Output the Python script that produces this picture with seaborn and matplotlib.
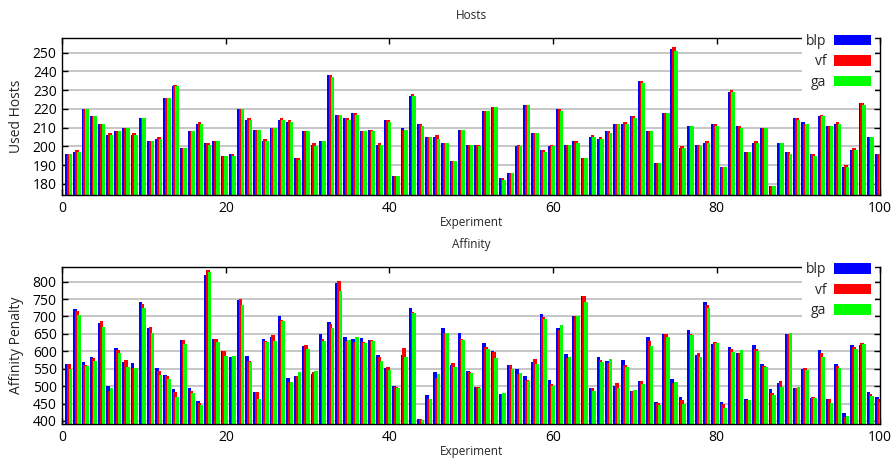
import numpy as np
import pandas as pd
import matplotlib
matplotlib.use("Agg")
import matplotlib.pyplot as plt
import seaborn as sns
from matplotlib.patches import Patch

experiments = list(range(1, 101))
series_names = ["blp", "vf", "ga"]
series_colors = ["#0000ff", "#ff0000", "#00ff00"]

hosts_blp = [196, 197, 220, 216, 212, 206, 208, 210, 206, 215, 203, 204, 226, 232, 199, 208, 212, 202, 203, 195,
             196, 220, 214, 209, 203, 210, 214, 213, 194, 208, 201, 203, 238, 217, 215, 218, 208, 209, 201, 214,
             184, 210, 227, 212, 205, 205, 202, 192, 209, 201, 201, 219, 221, 183, 186, 200, 222, 207, 198, 200,
             220, 201, 203, 194, 205, 204, 208, 212, 212, 216, 235, 208, 191, 218, 252, 199, 211, 201, 202, 212,
             189, 229, 211, 197, 202, 210, 179, 202, 197, 215, 213, 196, 216, 211, 212, 189, 198, 223, 205, 196]
hosts_vf = [196, 198, 220, 216, 212, 207, 208, 210, 207, 215, 203, 205, 226, 233, 199, 208, 213, 202, 203, 195,
            196, 220, 215, 209, 204, 210, 215, 214, 194, 208, 202, 203, 238, 217, 215, 218, 208, 209, 202, 214,
            184, 209, 228, 212, 205, 206, 202, 192, 209, 201, 201, 219, 221, 183, 186, 201, 222, 207, 198, 201,
            220, 201, 203, 194, 206, 205, 208, 212, 213, 216, 235, 208, 191, 218, 253, 200, 211, 201, 203, 212,
            189, 230, 211, 197, 203, 210, 179, 202, 197, 215, 212, 196, 217, 211, 213, 190, 199, 223, 205, 196]
hosts_ga = [196, 197, 220, 216, 212, 206, 208, 210, 206, 215, 203, 204, 226, 232, 199, 208, 212, 201, 203, 195,
            195, 220, 214, 209, 203, 210, 214, 213, 193, 208, 200, 203, 237, 217, 214, 217, 208, 208, 201, 213,
            184, 209, 227, 211, 205, 204, 202, 192, 209, 201, 200, 219, 221, 182, 186, 200, 222, 207, 197, 200,
            219, 201, 202, 194, 205, 204, 207, 212, 212, 215, 234, 208, 191, 218, 251, 199, 211, 200, 202, 211,
            189, 229, 210, 197, 202, 210, 179, 202, 196, 214, 212, 195, 216, 211, 212, 189, 198, 222, 205, 196]

aff_blp = [565, 722, 568, 585, 680, 499, 609, 568, 566, 741, 668, 552, 533, 492, 632, 496, 458, 820, 635, 602,
           583, 748, 586, 483, 636, 642, 702, 523, 528, 616, 536, 650, 683, 797, 640, 634, 638, 632, 590, 552,
           500, 590, 725, 405, 474, 541, 667, 560, 653, 543, 497, 625, 600, 478, 562, 549, 528, 569, 707, 517,
           666, 592, 701, 760, 494, 585, 572, 501, 574, 485, 514, 640, 455, 650, 520, 469, 660, 589, 741, 620,
           454, 613, 594, 462, 617, 563, 491, 509, 650, 494, 549, 465, 603, 463, 563, 424, 617, 618, 483, 470]
aff_vf = [565, 716, 562, 580, 687, 487, 605, 575, 551, 735, 671, 544, 529, 484, 632, 487, 452, 833, 635, 602,
          583, 751, 572, 482, 630, 648, 690, 513, 528, 618, 540, 635, 678, 803, 631, 628, 627, 632, 583, 556,
          497, 609, 713, 405, 463, 523, 652, 567, 635, 540, 497, 612, 598, 478, 561, 536, 517, 577, 699, 505,
          661, 582, 701, 759, 494, 575, 567, 509, 561, 485, 514, 629, 451, 651, 510, 460, 649, 595, 733, 626,
          448, 608, 594, 459, 606, 557, 481, 514, 650, 494, 551, 469, 595, 463, 558, 411, 612, 624, 477, 463]
aff_ga = [549, 704, 558, 572, 671, 494, 596, 555, 551, 725, 652, 532, 520, 469, 621, 481, 446, 828, 626, 586,
          586, 733, 569, 463, 627, 630, 688, 513, 540, 606, 543, 630, 666, 774, 632, 641, 625, 630, 572, 546,
          494, 585, 711, 402, 463, 536, 652, 554, 632, 537, 496, 606, 581, 481, 550, 538, 515, 563, 694, 501,
          676, 583, 701, 742, 487, 569, 577, 494, 555, 488, 506, 615, 446, 640, 511, 450, 647, 584, 723, 624,
          436, 598, 603, 459, 602, 554, 474, 497, 653, 497, 546, 465, 585, 451, 551, 414, 607, 621, 472, 455]

x_ticks = [0, 20, 40, 60, 80, 100]
hosts_yticks = [180, 190, 200, 210, 220, 230, 240, 250]
aff_yticks = [400, 450, 500, 550, 600, 650, 700, 750, 800]

sns.set_style("ticks")
plt.rcParams["font.family"] = ["Open Sans", "DejaVu Sans"]

fig = plt.figure(figsize=(8.92, 4.62), dpi=100)
ax1 = fig.add_axes([0.0698, 0.5779, 0.9170, 0.3392])
ax2 = fig.add_axes([0.0698, 0.0823, 0.9170, 0.3405])

offsets = [-0.42, -0.20, 0.02]
bar_w = 0.44


def draw(ax, values, ylim, yticks, title, ylabel, title_pad):
    for name, col, off, vals in zip(series_names, series_colors, offsets, values):
        df = pd.DataFrame({"x": np.array(experiments, dtype=float) + off, "y": vals})
        sns.barplot(data=df, x="x", y="y", native_scale=True, width=bar_w,
                    color=col, saturation=1, linewidth=0, errorbar=None, ax=ax)
    ax.set_xlim(0, 100)
    ax.set_ylim(*ylim)
    ax.set_xticks(x_ticks)
    ax.set_xticklabels([str(t) for t in x_ticks])
    ax.set_yticks(yticks)
    ax.set_yticklabels([str(t) for t in yticks])
    ax.yaxis.grid(True, color="#bcbcbc", linewidth=1.2)
    ax.xaxis.grid(False)
    ax.set_axisbelow(True)
    ax.tick_params(direction="in", top=True, right=True, length=4.5, width=1,
                   labelsize=10, pad=4, colors="black")
    for s in ax.spines.values():
        s.set_linewidth(1)
        s.set_color("black")
        s.set_visible(True)
    ax.set_title(title, fontsize=8.5, pad=title_pad)
    ax.set_xlabel("Experiment", fontsize=8.5)
    ax.xaxis.set_label_coords(0.5, -0.135)
    ax.set_ylabel(ylabel, fontsize=10)
    ax.yaxis.set_label_coords(-0.047, 0.5)
    handles = [Patch(facecolor=c, edgecolor="none") for c in series_colors]
    leg = ax.legend(handles, series_names, loc="upper right",
                    bbox_to_anchor=(0.9935, 1.05), markerfirst=False,
                    frameon=True, fancybox=False, framealpha=1,
                    facecolor="white", edgecolor="none", fontsize=10,
                    handlelength=2.66, handleheight=0.77, handletextpad=0.6,
                    labelspacing=0.4, borderpad=0.25, borderaxespad=0)
    leg.set_zorder(10)


draw(ax1, [hosts_blp, hosts_vf, hosts_ga], (174.1, 257.7), hosts_yticks,
     "Hosts", "Used Hosts", 13.7)
draw(ax2, [aff_blp, aff_vf, aff_ga], (391.4, 843.0), aff_yticks,
     "Affinity", "Affinity Penalty", 13.2)

fig.savefig("out.png", dpi=100)
